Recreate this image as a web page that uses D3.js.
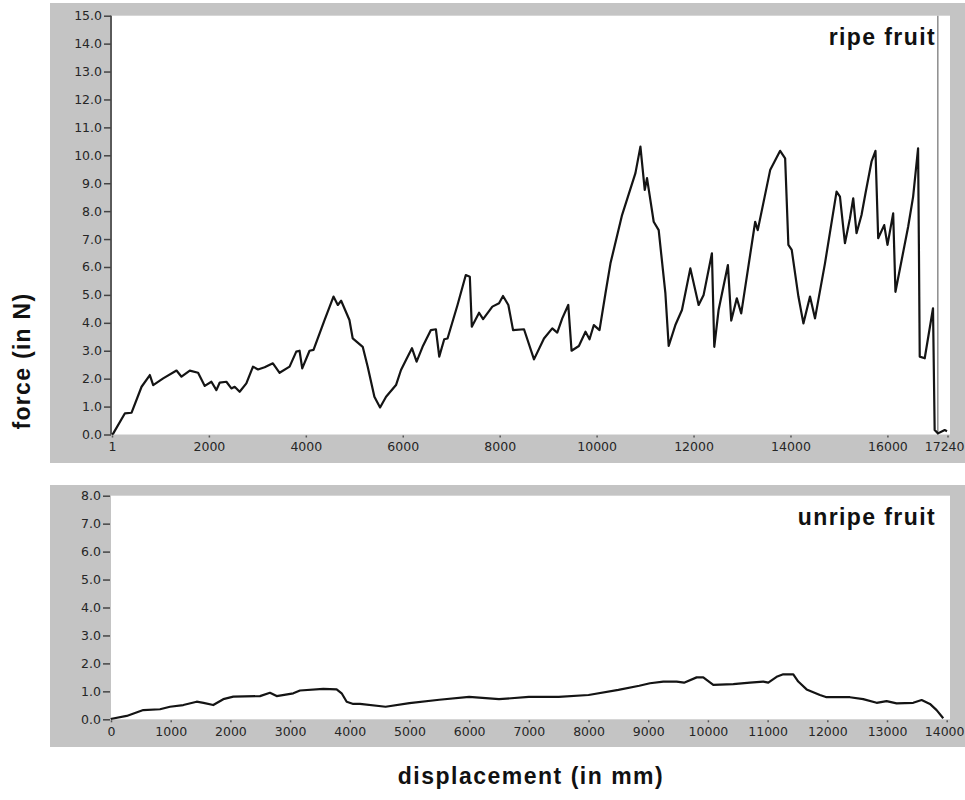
<!DOCTYPE html>
<html>
<head>
<meta charset="utf-8">
<script src="https://cdn.jsdelivr.net/npm/d3@7"></script>
<style>
  body { margin: 0; background: #fff; }
  svg { display: block; }
</style>
</head>
<body>
<svg id="chart" width="965" height="800"></svg>
<script>
// ripe fruit: displacement / force
let ripeX = [1, 28, 268, 405, 611, 782, 851, 1057, 1332, 1435, 1606, 1777, 1915, 2052, 2155, 2224, 2361, 2464, 2532, 2635,
    2773, 2910, 3013, 3150, 3321, 3459, 3665, 3803, 3871, 3926, 4077, 4159, 4386, 4571, 4660, 4729, 4900, 4968, 5174, 5277,
    5415, 5532, 5656, 5861, 5964, 6067, 6190, 6286, 6409, 6581, 6684, 6753, 6856, 6924, 7130, 7301, 7384, 7425, 7575, 7658,
    7849, 7987, 8069, 8179, 8276, 8502, 8708, 8914, 9085, 9188, 9291, 9415, 9483, 9634, 9771, 9854, 9943, 10060, 10183, 10286,
    10525, 10801, 10904, 10993, 11040, 11178, 11281, 11419, 11487, 11625, 11761, 11934, 12105, 12208, 12379, 12428, 12517, 12709, 12778, 12893,
    12984, 13272, 13325, 13581, 13787, 13890, 13957, 14026, 14164, 14267, 14403, 14506, 14712, 14951, 15021, 15124, 15227, 15295, 15363, 15466,
    15548, 15672, 15754, 15810, 15934, 16002, 16119, 16166, 16428, 16531, 16633, 16650, 16667, 16770, 16941, 16975, 17044, 17182, 17230];
let ripeF = [0.0, 0.04, 0.76, 0.78, 1.71, 2.13, 1.77, 2.01, 2.29, 2.07, 2.29, 2.21, 1.74, 1.89, 1.59, 1.86, 1.89, 1.65, 1.71, 1.53,
    1.83, 2.43, 2.33, 2.41, 2.55, 2.21, 2.43, 2.97, 3.00, 2.37, 3.00, 3.03, 4.10, 4.94, 4.64, 4.79, 4.10, 3.44, 3.14, 2.43,
    1.35, 0.97, 1.35, 1.77, 2.31, 2.67, 3.09, 2.61, 3.14, 3.74, 3.77, 2.79, 3.41, 3.44, 4.64, 5.71, 5.65, 3.86, 4.36, 4.13,
    4.58, 4.70, 4.96, 4.64, 3.74, 3.77, 2.69, 3.44, 3.80, 3.65, 4.16, 4.64, 3.00, 3.17, 3.68, 3.41, 3.92, 3.74, 5.06, 6.13,
    7.86, 9.36, 10.31, 8.76, 9.18, 7.62, 7.32, 5.06, 3.17, 3.92, 4.46, 5.95, 4.64, 5.00, 6.49, 3.14, 4.46, 6.07, 4.08, 4.88,
    4.34, 7.62, 7.32, 9.47, 10.16, 9.89, 6.79, 6.61, 4.94, 3.98, 4.94, 4.16, 6.13, 8.70, 8.52, 6.85, 7.74, 8.46, 7.21, 7.86,
    8.64, 9.77, 10.16, 7.03, 7.50, 6.79, 7.92, 5.11, 7.44, 8.52, 10.25, 6.73, 2.79, 2.73, 4.52, 0.16, 0.04, 0.16, 0.12];
let ripeCursor = 17040;

// unripe fruit
let unripeX = [0, 12, 263, 541, 821, 988, 1211, 1435, 1550, 1713, 1881, 2049, 2496, 2663, 2775, 3054, 3166, 3556, 3780, 3864,
    3948, 4059, 4171, 4600, 5000, 5500, 6000, 6500, 7000, 7500, 8000, 8500, 8850, 9029, 9252, 9476, 9600, 9811, 9922, 10090,
    10425, 10704, 10927, 11011, 11151, 11262, 11430, 11513, 11653, 11876, 11988, 12378, 12601, 12826, 12993, 13161, 13439, 13580, 13719, 13831, 13942];
let unripeF = [0.0, 0.02, 0.12, 0.33, 0.36, 0.45, 0.51, 0.63, 0.59, 0.51, 0.72, 0.81, 0.83, 0.95, 0.83, 0.93, 1.03, 1.09, 1.07, 0.93,
    0.63, 0.55, 0.55, 0.45, 0.58, 0.70, 0.80, 0.72, 0.80, 0.80, 0.87, 1.05, 1.20, 1.29, 1.35, 1.35, 1.31, 1.50, 1.50, 1.23,
    1.26, 1.31, 1.35, 1.31, 1.52, 1.61, 1.61, 1.35, 1.07, 0.87, 0.79, 0.79, 0.72, 0.59, 0.65, 0.57, 0.59, 0.69, 0.55, 0.33, 0.04];

let ripeXTicks = [1, 2000, 4000, 6000, 8000, 10000, 12000, 14000, 16000, 17240];
let ripeYTicks = [0, 1, 2, 3, 4, 5, 6, 7, 8, 9, 10, 11, 12, 13, 14, 15];
let unripeXTicks = [0, 1000, 2000, 3000, 4000, 5000, 6000, 7000, 8000, 9000, 10000, 11000, 12000, 13000, 14000];
let unripeYTicks = [0, 1, 2, 3, 4, 5, 6, 7, 8];

let panelGrey = "#c4c4c4";
let textColor = "#262626";
let lineColor = "#141414";

function drawPanel(svg, opts) {
    let g = svg.append("g");

    // grey frame + white plot area
    g.append("rect")
        .attr("x", 50).attr("y", opts.panelTop)
        .attr("width", 915).attr("height", opts.panelBottom - opts.panelTop)
        .style("fill", panelGrey);

    let x = d3.scaleLinear().domain(opts.xDomain).range([opts.left, opts.right]);
    let y = d3.scaleLinear().domain(opts.yDomain).range([opts.bottom, opts.top]);

    g.append("rect")
        .attr("x", opts.left).attr("y", opts.top)
        .attr("width", 950 - opts.left).attr("height", opts.bottom - opts.top)
        .style("fill", "#fff");

    // y axis
    let yAxis = g.append("g")
        .attr("transform", "translate(" + (opts.left - 1) + ",0)")
        .call(d3.axisLeft(y).tickValues(opts.yTicks).tickFormat(d3.format(".1f")).tickSize(7).tickPadding(2));
    yAxis.selectAll("text")
        .style("font-family", "DejaVu Sans")
        .style("font-size", "12.5px")
        .style("fill", textColor);
    yAxis.selectAll("line").style("stroke", "#444").style("stroke-width", 1.5);
    if (opts.yLine) {
        yAxis.select(".domain").style("stroke", "#5a5a5a").style("stroke-width", 2).attr("d", "M0," + y(opts.yDomain[1]) + "V" + y(opts.yDomain[0]));
    } else {
        yAxis.select(".domain").remove();
    }

    // x axis
    let xAxis = g.append("g")
        .attr("transform", "translate(0," + (opts.bottom + 1) + ")")
        .call(d3.axisBottom(x).tickValues(opts.xTicks).tickSize(2).tickPadding(5));
    xAxis.select(".domain").remove();
    xAxis.selectAll("line").style("stroke", "#555").style("stroke-width", 1.5);
    xAxis.selectAll("text")
        .text(d => String(d))
        .style("font-family", "DejaVu Sans")
        .style("font-size", "12.5px")
        .style("fill", textColor);
    // last label sits against the right edge, as in the original
    xAxis.selectAll(".tick").filter(d => d === opts.xDomain[1]).select("text")
        .attr("text-anchor", "end")
        .attr("x", 964 - opts.right);

    // cursor line
    if (opts.cursor !== undefined) {
        g.append("line")
            .attr("x1", x(opts.cursor)).attr("x2", x(opts.cursor))
            .attr("y1", opts.top).attr("y2", opts.bottom)
            .style("stroke", "#8c8c8c")
            .style("stroke-width", 1.5);
    }

    // data
    let pts = opts.xs.map((d, i) => [d, opts.ys[i]]);
    g.append("path")
        .datum(pts)
        .attr("d", d3.line().x(d => x(d[0])).y(d => y(d[1])))
        .style("fill", "none")
        .style("stroke", lineColor)
        .style("stroke-width", 2.2)
        .style("stroke-linejoin", "round");

    // label
    g.append("text")
        .attr("x", 936)
        .attr("y", opts.labelY)
        .attr("text-anchor", "end")
        .text(opts.label)
        .style("font-family", "Liberation Sans, Arial, sans-serif")
        .style("font-weight", "bold")
        .style("font-size", "23px")
        .style("letter-spacing", "1.4px")
        .style("fill", "#111");
}

let svg = d3.select("#chart");

drawPanel(svg, {
    panelTop: 3, panelBottom: 463,
    left: 112, right: 947.5, top: 15.7, bottom: 434.5,
    xDomain: [1, 17240], yDomain: [0, 15],
    xTicks: ripeXTicks, yTicks: ripeYTicks,
    xs: ripeX, ys: ripeF, cursor: ripeCursor,
    yLine: true, label: "ripe fruit", labelY: 45
});

drawPanel(svg, {
    panelTop: 485, panelBottom: 747,
    left: 111, right: 946.7, top: 495.7, bottom: 719.3,
    xDomain: [0, 14000], yDomain: [0, 8],
    xTicks: unripeXTicks, yTicks: unripeYTicks,
    xs: unripeX, ys: unripeF,
    yLine: false, label: "unripe fruit", labelY: 525
});

// axis titles
svg.append("text")
    .attr("transform", "translate(30,361) rotate(-90)")
    .attr("text-anchor", "middle")
    .text("force (in N)")
    .style("font-family", "Liberation Sans, Arial, sans-serif")
    .style("font-weight", "bold")
    .style("font-size", "23px")
    .style("letter-spacing", "1.3px")
    .style("fill", "#111");

svg.append("text")
    .attr("x", 531)
    .attr("y", 784)
    .attr("text-anchor", "middle")
    .text("displacement (in mm)")
    .style("font-family", "Liberation Sans, Arial, sans-serif")
    .style("font-weight", "bold")
    .style("font-size", "23px")
    .style("letter-spacing", "1.5px")
    .style("fill", "#111");
</script>
</body>
</html>
